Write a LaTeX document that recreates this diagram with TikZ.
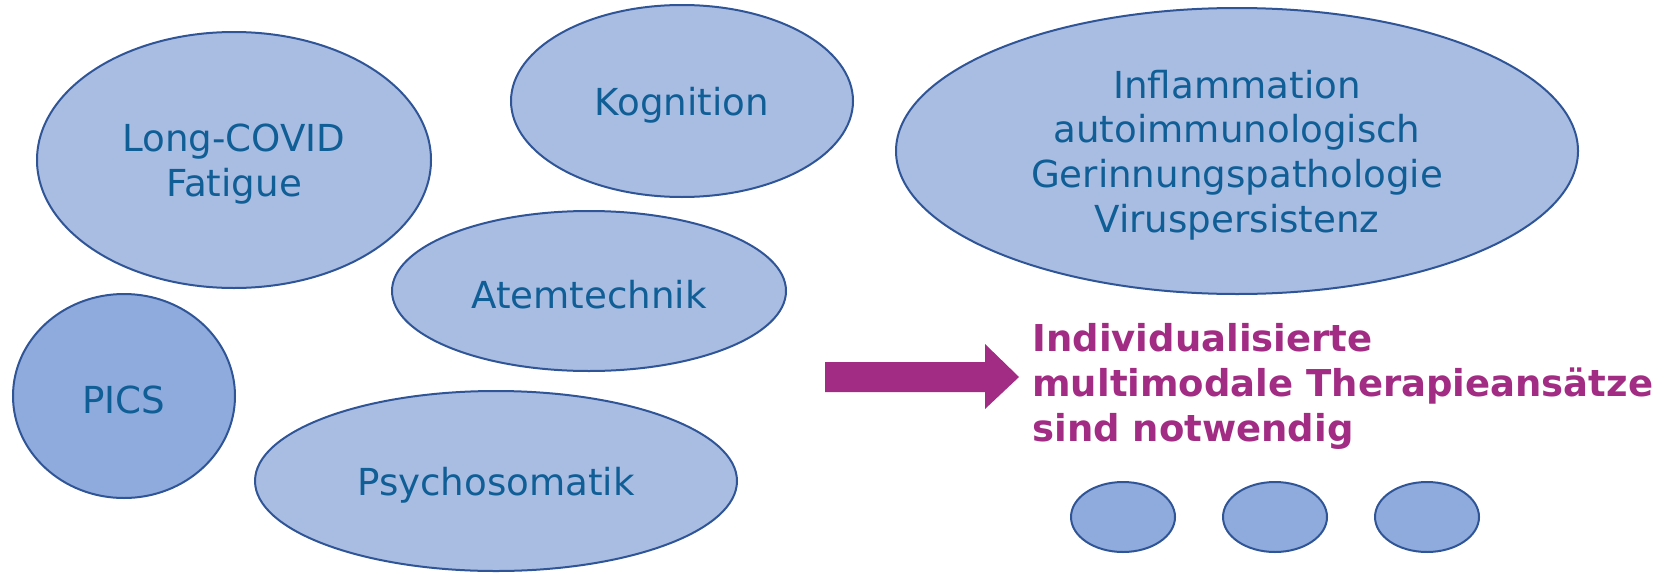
\documentclass[tikz,border=0pt]{standalone}
\usepackage{fontspec}
\setmainfont{DejaVu Sans}
\usetikzlibrary{shapes.geometric}
\definecolor{lightfill}{HTML}{A9BDE3}
\definecolor{darkfill}{HTML}{8FAADC}
\definecolor{edgeblue}{HTML}{2F5597}
\definecolor{textblue}{HTML}{105E96}
\definecolor{magentatext}{HTML}{A22B84}
\tikzset{
  bubble/.style={ellipse, draw=edgeblue, line width=1pt, fill=lightfill, inner sep=0pt},
  darkbubble/.style={bubble, fill=darkfill},
  bubbletext/.style={inner sep=0pt, text=textblue, align=center, yshift=-2pt,
    font=\fontsize{18.6}{22.4}\selectfont},
}
\begin{document}
\begin{tikzpicture}[x=0.5pt,y=-0.5pt]
\useasboundingbox (0,0) rectangle (1669,573);
\node[bubble, minimum width=197pt, minimum height=128pt] (lc) at (234,160) {};
\node[bubbletext] (lct) at (lc.center) {Long-COVID\\Fatigue};
\node[bubble, minimum width=171pt, minimum height=96pt] (kog) at (682,101) {};
\node[bubbletext] (kogt) at (kog.center) {Kognition};
\node[bubble, minimum width=197pt, minimum height=80pt] (atem) at (589,291) {};
\node[bubbletext] (atemt) at (atem.center) {Atemtechnik};
\node[darkbubble, minimum width=111pt, minimum height=102pt] (pics) at (124,396) {};
\node[bubbletext] (picst) at (pics.center) {PICS};
\node[bubble, minimum width=241pt, minimum height=90pt] (psy) at (496,481) {};
\node[bubbletext] (psyt) at (psy.center) {Psychosomatik};
\node[bubble, minimum width=341pt, minimum height=143pt] (infl) at (1237,151) {};
\node[bubbletext] (inflt) at (infl.center) {Inflammation\\autoimmunologisch\\Gerinnungspathologie\\Viruspersistenz};
\fill[magentatext] (825,362) -- (985,362) -- (985,344) -- (1019,377) -- (985,409) -- (985,392) -- (825,392) -- cycle;
\node[anchor=west, inner sep=0pt, align=left, text=magentatext,
  font=\bfseries\fontsize{18.5}{22.5}\selectfont] (msg) at (1032,386) {Individualisierte\\multimodale Therapieansätze\\sind notwendig};
\node[darkbubble, minimum width=52pt, minimum height=35pt] (d1) at (1123,517) {};
\node[darkbubble, minimum width=52pt, minimum height=35pt] (d2) at (1275,517) {};
\node[darkbubble, minimum width=52pt, minimum height=35pt] (d3) at (1427,517) {};
\end{tikzpicture}
\end{document}
